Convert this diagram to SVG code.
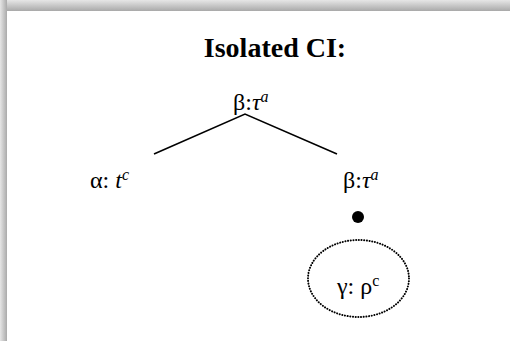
<svg xmlns="http://www.w3.org/2000/svg" width="510" height="341" viewBox="0 0 510 341">
<defs>
<linearGradient id="gTop" x1="0" y1="0" x2="0" y2="1">
<stop offset="0" stop-color="#e6e6e6"/>
<stop offset="1" stop-color="#a9a9a9"/>
</linearGradient>
<linearGradient id="gLeft" x1="0" y1="0" x2="1" y2="0">
<stop offset="0" stop-color="#e6e6e6"/>
<stop offset="1" stop-color="#aaaaaa"/>
</linearGradient>
</defs>
<style>
text{font-family:"Liberation Serif","Times New Roman",serif;fill:#000}
.lbl{font-size:24px}
.it{font-style:italic}
.sup{font-size:16px}
.edge{stroke:#000;stroke-width:1.6;fill:none}
</style>
<rect x="0" y="0" width="510" height="341" fill="#ffffff"/>
<rect x="0" y="0" width="510" height="11" fill="url(#gTop)"/>
<rect x="0" y="0" width="7" height="341" fill="url(#gLeft)"/>
<text x="275" y="57" font-size="28" font-weight="bold" text-anchor="middle">Isolated CI:</text>
<g id="connectors">
<polyline class="edge" points="154,154 245,114 337,154"/>
</g>
<g id="root">
<text class="lbl" x="233" y="110">β:<tspan class="it">τ</tspan><tspan class="it sup" dy="-8">a</tspan></text>
</g>
<g id="alpha">
<text class="lbl" x="90" y="188">α: <tspan class="it">t</tspan><tspan class="it sup" dy="-8">c</tspan></text>
</g>
<g id="beta">
<text class="lbl" x="343" y="188">β:<tspan class="it">τ</tspan><tspan class="it sup" dy="-8">a</tspan></text>
<circle cx="358" cy="217" r="6" fill="#000"/>
</g>
<g id="gamma">
<ellipse cx="358.5" cy="278.5" rx="50.5" ry="38.5" fill="none" stroke="#000" stroke-width="2" stroke-dasharray="0.1 2.6" stroke-linecap="round"/>
<text class="lbl" x="337" y="294">γ: ρ<tspan class="sup" dy="-8">c</tspan></text>
</g>
</svg>
